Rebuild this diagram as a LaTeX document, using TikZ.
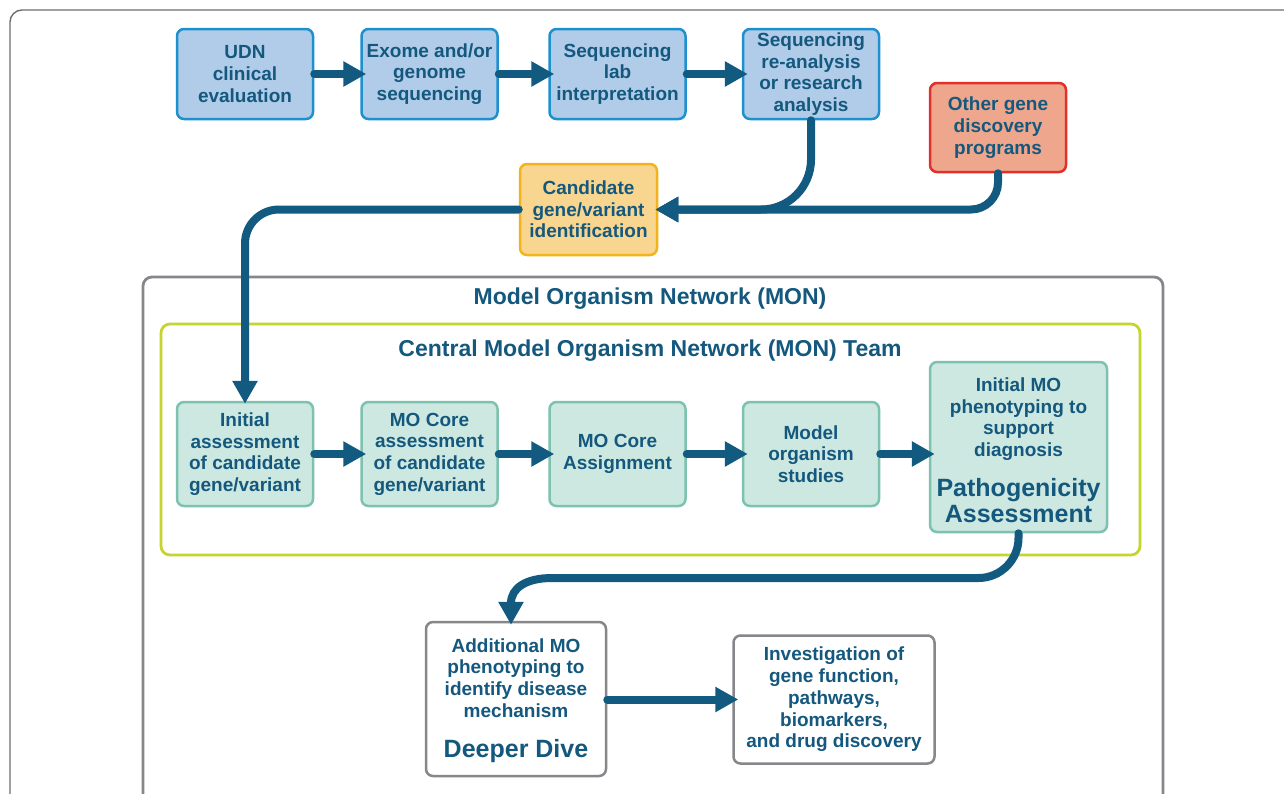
\documentclass[tikz,border=0pt]{standalone}
\usepackage{fontspec}
\setmainfont{Liberation Sans}
\usetikzlibrary{arrows.meta}
\definecolor{txt}{HTML}{14587E}
\definecolor{arrowc}{HTML}{135A80}
\definecolor{bluefill}{HTML}{B0CCE9}
\definecolor{bluedraw}{HTML}{1E90CE}
\definecolor{greenfill}{HTML}{CDE8E0}
\definecolor{greendraw}{HTML}{7DC2AF}
\definecolor{candfill}{HTML}{F9D68F}
\definecolor{canddraw}{HTML}{F2B31C}
\definecolor{otherfill}{HTML}{EEA78D}
\definecolor{otherdraw}{HTML}{E1302A}
\definecolor{grayline}{HTML}{87878B}
\definecolor{limeline}{HTML}{C6D430}
\definecolor{frameline}{HTML}{6E6E6E}
\newcommand{\boxfont}{\fontsize{19}{21.7}\selectfont\bfseries}
\newcommand{\bigfont}{\fontsize{25}{26}\selectfont\bfseries}
\tikzset{
  box/.style={draw, line width=2.5pt, rounded corners=7pt, align=center,
    font=\boxfont, inner sep=0pt, text=txt},
  bluebox/.style={box, draw=bluedraw, fill=bluefill, minimum width=136pt, minimum height=90pt},
  greenbox/.style={box, draw=greendraw, fill=greenfill, minimum width=136pt, minimum height=104pt},
  graybox/.style={box, draw=grayline, fill=white},
  flow/.style={draw=arrowc, line width=8pt, line cap=round,
    -{Triangle[length=23pt,width=24pt]}},
  rowflow/.style={flow, shorten >=-6pt},
  title/.style={font=\fontsize{23}{25}\selectfont\bfseries, text=txt, inner sep=0pt},
  txtnode/.style={align=center, text=txt, inner sep=0pt},
}
\begin{document}
\begin{tikzpicture}[x=1pt,y=-1pt]
\useasboundingbox (0,0) rectangle (1284,793);
\begin{scope}
\clip (0,0) rectangle (1284,793);
\fill[white] (0,0) rectangle (1284,793);
% outer frame
\draw[frameline, line width=1.4pt, rounded corners=12pt] (10,10) rectangle (1400,900);
% MON box
\draw[grayline, line width=2.8pt, rounded corners=9pt] (143,277) rectangle (1163,900);
\node[title] (montitle) at (650,298.5) {Model Organism Network (MON)};
% central box
\draw[limeline, line width=2.8pt, rounded corners=9pt] (161,324) rectangle (1140,555);
\node[title] (centitle) at (650,350.5) {Central Model Organism Network (MON) Team};

% top row
\node[bluebox] (udn) at (245,74) {UDN\\clinical\\evaluation};
\node[bluebox] (exome) at (429.5,74) {Exome and/or\\genome\\sequencing};
\node[bluebox] (seqlab) at (617.5,74) {Sequencing\\lab\\interpretation};
\node[bluebox] (rean) at (811,74) {Sequencing\\re-analysis\\or research\\analysis};
\node[box, draw=otherdraw, fill=otherfill, minimum width=136pt, minimum height=89pt] (other) at (998,127.5) {Other gene\\discovery\\programs};
\node[box, draw=canddraw, fill=candfill, minimum width=137pt, minimum height=91pt] (cand) at (588.5,209.5) {Candidate\\gene/variant\\identification};

% MON row
\node[greenbox] (init) at (245,454) {Initial\\assessment\\of candidate\\gene/variant};
\node[greenbox] (core) at (429.5,454) {MO Core\\assessment\\of candidate\\gene/variant};
\node[greenbox] (assign) at (617.5,454) {MO Core\\Assignment};
\node[greenbox] (model) at (811,454) {Model\\organism\\studies};
\node[box, draw=greendraw, fill=greenfill, minimum width=177pt, minimum height=170pt] (patho) at (1018.5,447) {};
\node[txtnode, font=\boxfont] (pathosmall) at (1018.5,419) {Initial MO\\phenotyping to\\support\\diagnosis};
\node[txtnode, font=\bigfont] (pathobig) at (1018.5,501) {Pathogenicity\\Assessment};

% bottom
\node[graybox, minimum width=180pt, minimum height=154pt] (addl) at (516,699) {};
\node[txtnode, font=\boxfont] (addlsmall) at (516,678) {Additional MO\\phenotyping to\\identify disease\\mechanism};
\node[txtnode, font=\bigfont] (addlbig) at (516,751) {Deeper Dive};
\node[graybox, minimum width=201pt, minimum height=128pt] (inv) at (834,699.5) {Investigation of\\gene function,\\pathways,\\biomarkers,\\and drug discovery};

% connectors
\draw[rowflow] (udn.east) -- (exome.west);
\draw[rowflow] (exome.east) -- (seqlab.west);
\draw[rowflow] (seqlab.east) -- (rean.west);
\draw[flow, shorten >=-3pt, rounded corners=27pt] (other.south) |- (cand.east);
\draw[flow, shorten >=-3pt, rounded corners=50pt] (rean.south) |- (cand.east);
\draw[flow, shorten >=-3pt, rounded corners=34pt] (cand.west) -| (init.north);
\draw[rowflow] (init.east) -- (core.west);
\draw[rowflow] (core.east) -- (assign.west);
\draw[rowflow] (assign.east) -- (model.west);
\draw[rowflow] (model.east) -- (model.east -| patho.west);
\coordinate (p1) at (1018.5,538);
\coordinate (p2) at (978.5,578);
\coordinate (p3) at (552,578);
\draw[flow] (patho.south) -- (p1) .. controls (1018.5,560) and (1000.5,578) .. (p2)
  -- (p3) .. controls (526,578) and (511,588) .. ([xshift=-5pt,yshift=-4pt]addl.north);
\draw[rowflow] (addl.east |- inv.west) -- (inv.west);
\end{scope}
\end{tikzpicture}
\end{document}
